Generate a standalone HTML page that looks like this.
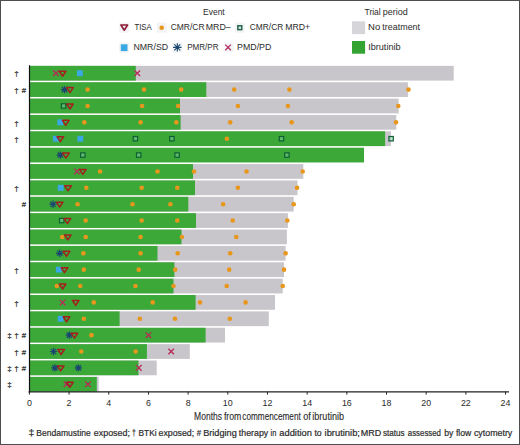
<!DOCTYPE html>
<html><head><meta charset="utf-8"><style>
html,body{margin:0;padding:0;background:#fff;}
body{width:520px;height:445px;overflow:hidden;}
svg{display:block;}
text{font-family:"Liberation Sans",sans-serif;fill:#2b2b2b;stroke:#2b2b2b;stroke-width:0.2px;}
</style></head><body>
<svg width="520" height="445" viewBox="0 0 520 445">
<rect x="0" y="0" width="520" height="445" fill="#fff"/>
<rect x="29.6" y="65.85" width="424.1" height="14.75" fill="#c8c6ca"/>
<rect x="29.6" y="65.85" width="106.2" height="14.75" fill="#3ba838"/>
<rect x="29.6" y="82.22" width="378.3" height="14.75" fill="#c8c6ca"/>
<rect x="29.6" y="82.22" width="176.7" height="14.75" fill="#3ba838"/>
<rect x="29.6" y="98.59" width="369" height="14.75" fill="#c8c6ca"/>
<rect x="29.6" y="98.59" width="150.4" height="14.75" fill="#3ba838"/>
<rect x="29.6" y="114.96" width="366.7" height="14.75" fill="#c8c6ca"/>
<rect x="29.6" y="114.96" width="151" height="14.75" fill="#3ba838"/>
<rect x="29.6" y="131.33" width="361.3" height="14.75" fill="#c8c6ca"/>
<rect x="29.6" y="131.33" width="355.5" height="14.75" fill="#3ba838"/>
<rect x="29.6" y="147.7" width="334.4" height="14.75" fill="#3ba838"/>
<rect x="29.6" y="164.07" width="273.7" height="14.75" fill="#c8c6ca"/>
<rect x="29.6" y="164.07" width="163.4" height="14.75" fill="#3ba838"/>
<rect x="29.6" y="180.44" width="267.9" height="14.75" fill="#c8c6ca"/>
<rect x="29.6" y="180.44" width="165.4" height="14.75" fill="#3ba838"/>
<rect x="29.6" y="196.81" width="264.1" height="14.75" fill="#c8c6ca"/>
<rect x="29.6" y="196.81" width="158.7" height="14.75" fill="#3ba838"/>
<rect x="29.6" y="213.18" width="258.3" height="14.75" fill="#c8c6ca"/>
<rect x="29.6" y="213.18" width="166.4" height="14.75" fill="#3ba838"/>
<rect x="29.6" y="229.55" width="257.3" height="14.75" fill="#c8c6ca"/>
<rect x="29.6" y="229.55" width="151.9" height="14.75" fill="#3ba838"/>
<rect x="29.6" y="245.92" width="256" height="14.75" fill="#c8c6ca"/>
<rect x="29.6" y="245.92" width="127.9" height="14.75" fill="#3ba838"/>
<rect x="29.6" y="262.29" width="254.4" height="14.75" fill="#c8c6ca"/>
<rect x="29.6" y="262.29" width="144.8" height="14.75" fill="#3ba838"/>
<rect x="29.6" y="278.66" width="253.1" height="14.75" fill="#c8c6ca"/>
<rect x="29.6" y="278.66" width="143.9" height="14.75" fill="#3ba838"/>
<rect x="29.6" y="295.03" width="245.4" height="14.75" fill="#c8c6ca"/>
<rect x="29.6" y="295.03" width="166" height="14.75" fill="#3ba838"/>
<rect x="29.6" y="311.4" width="239.2" height="14.75" fill="#c8c6ca"/>
<rect x="29.6" y="311.4" width="90" height="14.75" fill="#3ba838"/>
<rect x="29.6" y="327.77" width="195.4" height="14.75" fill="#c8c6ca"/>
<rect x="29.6" y="327.77" width="176" height="14.75" fill="#3ba838"/>
<rect x="29.6" y="344.14" width="160.2" height="14.75" fill="#c8c6ca"/>
<rect x="29.6" y="344.14" width="117.3" height="14.75" fill="#3ba838"/>
<rect x="29.6" y="360.51" width="127.1" height="14.75" fill="#c8c6ca"/>
<rect x="29.6" y="360.51" width="108.9" height="14.75" fill="#3ba838"/>
<rect x="29.6" y="376.88" width="69.1" height="14.75" fill="#c8c6ca"/>
<rect x="29.6" y="376.88" width="67.2" height="14.75" fill="#3ba838"/>
<path d="M53.1 70.42L58.7 76.02M53.1 76.02L58.7 70.42" stroke="#b82a58" stroke-width="1.3" fill="none"/>
<path d="M59.3 71.22H65.9L62.6 76.22Z" fill="none" stroke="#a41f1e" stroke-width="1.5" stroke-linejoin="round"/>
<rect x="76.95" y="70.27" width="5.9" height="5.9" fill="#3aa8e2"/>
<path d="M134.5 70.42L140.1 76.02M134.5 76.02L140.1 70.42" stroke="#b82a58" stroke-width="1.3" fill="none"/>
<path d="M60.8 89.59L68.2 89.59M61.88 86.98L67.12 92.21M64.5 85.89L64.5 93.3M67.12 86.98L61.88 92.21" stroke="#1b4670" stroke-width="1.2" fill="none"/>
<path d="M66.6 87.59H73.2L69.9 92.59Z" fill="none" stroke="#a41f1e" stroke-width="1.5" stroke-linejoin="round"/>
<circle cx="87.6" cy="89.59" r="2.3" fill="#e8961c"/>
<circle cx="144" cy="89.59" r="2.3" fill="#e8961c"/>
<circle cx="181.2" cy="89.59" r="2.3" fill="#e8961c"/>
<circle cx="234.2" cy="89.59" r="2.3" fill="#e8961c"/>
<circle cx="289.4" cy="89.59" r="2.3" fill="#e8961c"/>
<circle cx="408.5" cy="89.59" r="2.3" fill="#e8961c"/>
<rect x="61.4" y="103.77" width="4.4" height="4.4" fill="#7fd0a0" fill-opacity="0.5" stroke="#0f5f34" stroke-width="1.2"/>
<path d="M66.6 103.97H73.2L69.9 108.97Z" fill="none" stroke="#a41f1e" stroke-width="1.5" stroke-linejoin="round"/>
<circle cx="87.6" cy="105.97" r="2.3" fill="#e8961c"/>
<circle cx="142.1" cy="105.97" r="2.3" fill="#e8961c"/>
<circle cx="178.1" cy="105.97" r="2.3" fill="#e8961c"/>
<circle cx="237.9" cy="105.97" r="2.3" fill="#e8961c"/>
<circle cx="287.9" cy="105.97" r="2.3" fill="#e8961c"/>
<circle cx="398.3" cy="105.97" r="2.3" fill="#e8961c"/>
<rect x="57.35" y="119.38" width="5.9" height="5.9" fill="#3aa8e2"/>
<path d="M62.4 120.33H69L65.7 125.33Z" fill="none" stroke="#a41f1e" stroke-width="1.5" stroke-linejoin="round"/>
<circle cx="84.3" cy="122.33" r="2.3" fill="#e8961c"/>
<circle cx="140.6" cy="122.33" r="2.3" fill="#e8961c"/>
<circle cx="176.3" cy="122.33" r="2.3" fill="#e8961c"/>
<circle cx="230.2" cy="122.33" r="2.3" fill="#e8961c"/>
<circle cx="291.7" cy="122.33" r="2.3" fill="#e8961c"/>
<circle cx="396" cy="122.33" r="2.3" fill="#e8961c"/>
<rect x="52.95" y="135.75" width="5.9" height="5.9" fill="#3aa8e2"/>
<path d="M57 136.7H63.6L60.3 141.7Z" fill="none" stroke="#a41f1e" stroke-width="1.5" stroke-linejoin="round"/>
<rect x="77.35" y="135.75" width="5.9" height="5.9" fill="#3aa8e2"/>
<rect x="133.2" y="136.5" width="4.4" height="4.4" fill="#7fd0a0" fill-opacity="0.5" stroke="#0f5f34" stroke-width="1.2"/>
<rect x="169.7" y="136.5" width="4.4" height="4.4" fill="#7fd0a0" fill-opacity="0.5" stroke="#0f5f34" stroke-width="1.2"/>
<circle cx="226.9" cy="138.7" r="2.3" fill="#e8961c"/>
<rect x="279.3" y="136.5" width="4.4" height="4.4" fill="#7fd0a0" fill-opacity="0.5" stroke="#0f5f34" stroke-width="1.2"/>
<rect x="388.9" y="136.5" width="4.4" height="4.4" fill="#7fd0a0" fill-opacity="0.5" stroke="#0f5f34" stroke-width="1.2"/>
<path d="M56.6 155.07L64 155.07M57.68 152.46L62.92 157.69M60.3 151.38L60.3 158.77M62.92 152.46L57.68 157.69" stroke="#1b4670" stroke-width="1.2" fill="none"/>
<path d="M62.6 153.07H69.2L65.9 158.07Z" fill="none" stroke="#a41f1e" stroke-width="1.5" stroke-linejoin="round"/>
<rect x="80.6" y="152.88" width="4.4" height="4.4" fill="#7fd0a0" fill-opacity="0.5" stroke="#0f5f34" stroke-width="1.2"/>
<rect x="136.5" y="152.88" width="4.4" height="4.4" fill="#7fd0a0" fill-opacity="0.5" stroke="#0f5f34" stroke-width="1.2"/>
<rect x="174.9" y="152.88" width="4.4" height="4.4" fill="#7fd0a0" fill-opacity="0.5" stroke="#0f5f34" stroke-width="1.2"/>
<rect x="284.7" y="152.88" width="4.4" height="4.4" fill="#7fd0a0" fill-opacity="0.5" stroke="#0f5f34" stroke-width="1.2"/>
<path d="M74.2 168.64L79.8 174.25M74.2 174.25L79.8 168.64" stroke="#b82a58" stroke-width="1.3" fill="none"/>
<path d="M79.5 169.44H86.1L82.8 174.44Z" fill="none" stroke="#a41f1e" stroke-width="1.5" stroke-linejoin="round"/>
<circle cx="100.1" cy="171.44" r="2.3" fill="#e8961c"/>
<circle cx="157.5" cy="171.44" r="2.3" fill="#e8961c"/>
<circle cx="194" cy="171.44" r="2.3" fill="#e8961c"/>
<circle cx="246.5" cy="171.44" r="2.3" fill="#e8961c"/>
<circle cx="302.7" cy="171.44" r="2.3" fill="#e8961c"/>
<rect x="57.75" y="184.87" width="5.9" height="5.9" fill="#3aa8e2"/>
<path d="M64.7 185.81H71.3L68 190.81Z" fill="none" stroke="#a41f1e" stroke-width="1.5" stroke-linejoin="round"/>
<circle cx="86.3" cy="187.81" r="2.3" fill="#e8961c"/>
<circle cx="141.7" cy="187.81" r="2.3" fill="#e8961c"/>
<circle cx="177.3" cy="187.81" r="2.3" fill="#e8961c"/>
<circle cx="237.9" cy="187.81" r="2.3" fill="#e8961c"/>
<circle cx="297.1" cy="187.81" r="2.3" fill="#e8961c"/>
<path d="M49.3 204.19L56.7 204.19M50.38 201.57L55.62 206.8M53 200.49L53 207.88M55.62 201.57L50.38 206.8" stroke="#1b4670" stroke-width="1.2" fill="none"/>
<path d="M56.4 202.19H63L59.7 207.19Z" fill="none" stroke="#a41f1e" stroke-width="1.5" stroke-linejoin="round"/>
<circle cx="77.6" cy="204.19" r="2.3" fill="#e8961c"/>
<circle cx="132.5" cy="204.19" r="2.3" fill="#e8961c"/>
<circle cx="170.4" cy="204.19" r="2.3" fill="#e8961c"/>
<circle cx="223.1" cy="204.19" r="2.3" fill="#e8961c"/>
<circle cx="293.7" cy="204.19" r="2.3" fill="#e8961c"/>
<rect x="59.5" y="218.36" width="4.4" height="4.4" fill="#7fd0a0" fill-opacity="0.5" stroke="#0f5f34" stroke-width="1.2"/>
<path d="M64.1 218.56H70.7L67.4 223.56Z" fill="none" stroke="#a41f1e" stroke-width="1.5" stroke-linejoin="round"/>
<circle cx="85.7" cy="220.56" r="2.3" fill="#e8961c"/>
<circle cx="141.7" cy="220.56" r="2.3" fill="#e8961c"/>
<circle cx="177.3" cy="220.56" r="2.3" fill="#e8961c"/>
<circle cx="232.7" cy="220.56" r="2.3" fill="#e8961c"/>
<circle cx="287.3" cy="220.56" r="2.3" fill="#e8961c"/>
<circle cx="62.2" cy="236.93" r="2.3" fill="#e8961c"/>
<path d="M64.5 234.93H71.1L67.8 239.93Z" fill="none" stroke="#a41f1e" stroke-width="1.5" stroke-linejoin="round"/>
<circle cx="85.7" cy="236.93" r="2.3" fill="#e8961c"/>
<circle cx="140.6" cy="236.93" r="2.3" fill="#e8961c"/>
<circle cx="181.9" cy="236.93" r="2.3" fill="#e8961c"/>
<circle cx="236.3" cy="236.93" r="2.3" fill="#e8961c"/>
<path d="M56 253.3L63.4 253.3M57.08 250.68L62.32 255.91M59.7 249.6L59.7 257M62.32 250.68L57.08 255.91" stroke="#1b4670" stroke-width="1.2" fill="none"/>
<path d="M63.2 251.3H69.8L66.5 256.3Z" fill="none" stroke="#a41f1e" stroke-width="1.5" stroke-linejoin="round"/>
<circle cx="83.4" cy="253.3" r="2.3" fill="#e8961c"/>
<circle cx="140.6" cy="253.3" r="2.3" fill="#e8961c"/>
<circle cx="177.7" cy="253.3" r="2.3" fill="#e8961c"/>
<circle cx="230.2" cy="253.3" r="2.3" fill="#e8961c"/>
<circle cx="285.6" cy="253.3" r="2.3" fill="#e8961c"/>
<rect x="55.85" y="266.71" width="5.9" height="5.9" fill="#3aa8e2"/>
<path d="M61.2 267.66H67.8L64.5 272.66Z" fill="none" stroke="#a41f1e" stroke-width="1.5" stroke-linejoin="round"/>
<circle cx="83.8" cy="269.66" r="2.3" fill="#e8961c"/>
<circle cx="138.7" cy="269.66" r="2.3" fill="#e8961c"/>
<circle cx="175.2" cy="269.66" r="2.3" fill="#e8961c"/>
<circle cx="229.2" cy="269.66" r="2.3" fill="#e8961c"/>
<circle cx="284" cy="269.66" r="2.3" fill="#e8961c"/>
<circle cx="56.8" cy="286.03" r="2.3" fill="#e8961c"/>
<path d="M59.3 284.03H65.9L62.6 289.03Z" fill="none" stroke="#a41f1e" stroke-width="1.5" stroke-linejoin="round"/>
<circle cx="80.3" cy="286.03" r="2.3" fill="#e8961c"/>
<circle cx="135.4" cy="286.03" r="2.3" fill="#e8961c"/>
<circle cx="173.5" cy="286.03" r="2.3" fill="#e8961c"/>
<circle cx="226.7" cy="286.03" r="2.3" fill="#e8961c"/>
<circle cx="282.7" cy="286.03" r="2.3" fill="#e8961c"/>
<path d="M59.8 299.6L65.4 305.2M59.8 305.2L65.4 299.6" stroke="#b82a58" stroke-width="1.3" fill="none"/>
<path d="M72.4 300.4H79L75.7 305.4Z" fill="none" stroke="#a41f1e" stroke-width="1.5" stroke-linejoin="round"/>
<circle cx="93.8" cy="302.4" r="2.3" fill="#e8961c"/>
<circle cx="152.7" cy="302.4" r="2.3" fill="#e8961c"/>
<circle cx="200" cy="302.4" r="2.3" fill="#e8961c"/>
<circle cx="245.6" cy="302.4" r="2.3" fill="#e8961c"/>
<rect x="57.75" y="315.82" width="5.9" height="5.9" fill="#3aa8e2"/>
<path d="M63.2 316.77H69.8L66.5 321.77Z" fill="none" stroke="#a41f1e" stroke-width="1.5" stroke-linejoin="round"/>
<circle cx="83.8" cy="318.77" r="2.3" fill="#e8961c"/>
<circle cx="139.8" cy="318.77" r="2.3" fill="#e8961c"/>
<circle cx="175" cy="318.77" r="2.3" fill="#e8961c"/>
<circle cx="229.8" cy="318.77" r="2.3" fill="#e8961c"/>
<path d="M65.6 335.14L73 335.14M66.68 332.53L71.92 337.76M69.3 331.44L69.3 338.84M71.92 332.53L66.68 337.76" stroke="#1b4670" stroke-width="1.2" fill="none"/>
<path d="M71.2 333.14H77.8L74.5 338.14Z" fill="none" stroke="#a41f1e" stroke-width="1.5" stroke-linejoin="round"/>
<circle cx="91.5" cy="335.14" r="2.3" fill="#e8961c"/>
<path d="M145.7 332.34L151.3 337.94M145.7 337.94L151.3 332.34" stroke="#b82a58" stroke-width="1.3" fill="none"/>
<path d="M49.9 351.51L57.3 351.51M50.98 348.9L56.22 354.13M53.6 347.81L53.6 355.21M56.22 348.9L50.98 354.13" stroke="#1b4670" stroke-width="1.2" fill="none"/>
<path d="M57.8 349.51H64.4L61.1 354.51Z" fill="none" stroke="#a41f1e" stroke-width="1.5" stroke-linejoin="round"/>
<circle cx="81.3" cy="351.51" r="2.3" fill="#e8961c"/>
<circle cx="135.6" cy="351.51" r="2.3" fill="#e8961c"/>
<path d="M168.4 348.71L174 354.31M168.4 354.31L174 348.71" stroke="#b82a58" stroke-width="1.3" fill="none"/>
<path d="M51.2 367.88L58.6 367.88M52.28 365.27L57.52 370.5M54.9 364.19L54.9 371.58M57.52 365.27L52.28 370.5" stroke="#1b4670" stroke-width="1.2" fill="none"/>
<path d="M57.4 365.88H64L60.7 370.88Z" fill="none" stroke="#a41f1e" stroke-width="1.5" stroke-linejoin="round"/>
<path d="M74.7 367.88L82.1 367.88M75.78 365.27L81.02 370.5M78.4 364.19L78.4 371.58M81.02 365.27L75.78 370.5" stroke="#1b4670" stroke-width="1.2" fill="none"/>
<path d="M136 365.08L141.6 370.69M136 370.69L141.6 365.08" stroke="#b82a58" stroke-width="1.3" fill="none"/>
<path d="M63.7 381.45L69.3 387.06M63.7 387.06L69.3 381.45" stroke="#b82a58" stroke-width="1.3" fill="none"/>
<path d="M66.6 382.25H73.2L69.9 387.25Z" fill="none" stroke="#a41f1e" stroke-width="1.5" stroke-linejoin="round"/>
<path d="M85.2 381.45L90.8 387.06M85.2 387.06L90.8 381.45" stroke="#b82a58" stroke-width="1.3" fill="none"/>
<text x="16.5" y="76.42" text-anchor="middle" font-size="8.0">†</text>
<text x="16.5" y="92.8" text-anchor="middle" font-size="8.0">†</text>
<text x="23.9" y="92.8" text-anchor="middle" font-size="7.8">#</text>
<text x="16.5" y="125.53" text-anchor="middle" font-size="8.0">†</text>
<text x="16.5" y="141.9" text-anchor="middle" font-size="8.0">†</text>
<text x="16.5" y="191.01" text-anchor="middle" font-size="8.0">†</text>
<text x="23.9" y="207.38" text-anchor="middle" font-size="7.8">#</text>
<text x="16.5" y="272.86" text-anchor="middle" font-size="8.0">†</text>
<text x="16.5" y="305.6" text-anchor="middle" font-size="8.0">†</text>
<text x="9.5" y="338.34" text-anchor="middle" font-size="8.0">‡</text>
<text x="16.5" y="338.34" text-anchor="middle" font-size="8.0">†</text>
<text x="23.9" y="338.34" text-anchor="middle" font-size="7.8">#</text>
<text x="16.5" y="354.71" text-anchor="middle" font-size="8.0">†</text>
<text x="23.9" y="354.71" text-anchor="middle" font-size="7.8">#</text>
<text x="9.5" y="371.08" text-anchor="middle" font-size="8.0">‡</text>
<text x="16.5" y="371.08" text-anchor="middle" font-size="8.0">†</text>
<text x="23.9" y="371.08" text-anchor="middle" font-size="7.8">#</text>
<text x="9.5" y="387.45" text-anchor="middle" font-size="8.0">‡</text>
<line x1="29.5" y1="65.35" x2="29.5" y2="392.4" stroke="#111" stroke-width="1.2"/>
<line x1="28.6" y1="391.8" x2="509" y2="391.8" stroke="#222" stroke-width="1.2"/>
<line x1="29.4" y1="391.8" x2="29.4" y2="394.6" stroke="#222" stroke-width="1"/>
<text x="29.4" y="405.8" text-anchor="middle" font-size="8.9" style="stroke-width:0">0</text>
<line x1="69.08" y1="391.8" x2="69.08" y2="394.6" stroke="#222" stroke-width="1"/>
<text x="69.08" y="405.8" text-anchor="middle" font-size="8.9" style="stroke-width:0">2</text>
<line x1="108.76" y1="391.8" x2="108.76" y2="394.6" stroke="#222" stroke-width="1"/>
<text x="108.76" y="405.8" text-anchor="middle" font-size="8.9" style="stroke-width:0">4</text>
<line x1="148.44" y1="391.8" x2="148.44" y2="394.6" stroke="#222" stroke-width="1"/>
<text x="148.44" y="405.8" text-anchor="middle" font-size="8.9" style="stroke-width:0">6</text>
<line x1="188.12" y1="391.8" x2="188.12" y2="394.6" stroke="#222" stroke-width="1"/>
<text x="188.12" y="405.8" text-anchor="middle" font-size="8.9" style="stroke-width:0">8</text>
<line x1="227.8" y1="391.8" x2="227.8" y2="394.6" stroke="#222" stroke-width="1"/>
<text x="227.8" y="405.8" text-anchor="middle" font-size="8.9" style="stroke-width:0">10</text>
<line x1="267.48" y1="391.8" x2="267.48" y2="394.6" stroke="#222" stroke-width="1"/>
<text x="267.48" y="405.8" text-anchor="middle" font-size="8.9" style="stroke-width:0">12</text>
<line x1="307.16" y1="391.8" x2="307.16" y2="394.6" stroke="#222" stroke-width="1"/>
<text x="307.16" y="405.8" text-anchor="middle" font-size="8.9" style="stroke-width:0">14</text>
<line x1="346.84" y1="391.8" x2="346.84" y2="394.6" stroke="#222" stroke-width="1"/>
<text x="346.84" y="405.8" text-anchor="middle" font-size="8.9" style="stroke-width:0">16</text>
<line x1="386.52" y1="391.8" x2="386.52" y2="394.6" stroke="#222" stroke-width="1"/>
<text x="386.52" y="405.8" text-anchor="middle" font-size="8.9" style="stroke-width:0">18</text>
<line x1="426.2" y1="391.8" x2="426.2" y2="394.6" stroke="#222" stroke-width="1"/>
<text x="426.2" y="405.8" text-anchor="middle" font-size="8.9" style="stroke-width:0">20</text>
<line x1="465.88" y1="391.8" x2="465.88" y2="394.6" stroke="#222" stroke-width="1"/>
<text x="465.88" y="405.8" text-anchor="middle" font-size="8.9" style="stroke-width:0">22</text>
<line x1="505.56" y1="391.8" x2="505.56" y2="394.6" stroke="#222" stroke-width="1"/>
<text x="505.56" y="405.8" text-anchor="middle" font-size="8.9" style="stroke-width:0">24</text>
<text x="194.1" y="419.7" font-size="10.2" textLength="27.91" lengthAdjust="spacingAndGlyphs" style="stroke-width:0.12px">Months</text>
<text x="223.88" y="419.7" font-size="10.2" textLength="17.4" lengthAdjust="spacingAndGlyphs" style="stroke-width:0.12px">from</text>
<text x="242.35" y="419.7" font-size="10.2" textLength="58.41" lengthAdjust="spacingAndGlyphs" style="stroke-width:0.12px">commencement</text>
<text x="303.22" y="419.7" font-size="10.2" textLength="7.57" lengthAdjust="spacingAndGlyphs" style="stroke-width:0.12px">of</text>
<text x="312.29" y="419.7" font-size="10.2" textLength="31.79" lengthAdjust="spacingAndGlyphs" style="stroke-width:0.12px">ibrutinib</text>
<text x="28.61" y="436.1" font-size="8.6" textLength="5.79" lengthAdjust="spacingAndGlyphs">‡</text>
<text x="36.3" y="436.1" font-size="8.6" textLength="54.48" lengthAdjust="spacingAndGlyphs">Bendamustine</text>
<text x="93.82" y="436.1" font-size="8.6" textLength="36.08" lengthAdjust="spacingAndGlyphs">exposed;</text>
<text x="132.04" y="436.1" font-size="8.6" textLength="3.82" lengthAdjust="spacingAndGlyphs">†</text>
<text x="138.51" y="436.1" font-size="8.6" textLength="18.15" lengthAdjust="spacingAndGlyphs">BTKi</text>
<text x="158.53" y="436.1" font-size="8.6" textLength="35.66" lengthAdjust="spacingAndGlyphs">exposed;</text>
<text x="196.67" y="436.1" font-size="8.6" textLength="4.37" lengthAdjust="spacingAndGlyphs">#</text>
<text x="203.15" y="436.1" font-size="8.6" textLength="33.64" lengthAdjust="spacingAndGlyphs">Bridging</text>
<text x="238.87" y="436.1" font-size="8.6" textLength="29.35" lengthAdjust="spacingAndGlyphs">therapy</text>
<text x="270.6" y="436.1" font-size="8.6" textLength="5.78" lengthAdjust="spacingAndGlyphs">in</text>
<text x="279.3" y="436.1" font-size="8.6" textLength="32.6" lengthAdjust="spacingAndGlyphs">addition</text>
<text x="314.47" y="436.1" font-size="8.6" textLength="7.19" lengthAdjust="spacingAndGlyphs">to</text>
<text x="324.57" y="436.1" font-size="8.6" textLength="35.37" lengthAdjust="spacingAndGlyphs">ibrutinib;</text>
<text x="360.76" y="436.1" font-size="8.6" textLength="20.47" lengthAdjust="spacingAndGlyphs">MRD</text>
<text x="382.97" y="436.1" font-size="8.6" textLength="21.62" lengthAdjust="spacingAndGlyphs">status</text>
<text x="407.87" y="436.1" font-size="8.6" textLength="33.04" lengthAdjust="spacingAndGlyphs">assessed</text>
<text x="444.15" y="436.1" font-size="8.6" textLength="9.07" lengthAdjust="spacingAndGlyphs">by</text>
<text x="455.98" y="436.1" font-size="8.6" textLength="15.4" lengthAdjust="spacingAndGlyphs">flow</text>
<text x="473.92" y="436.1" font-size="8.6" textLength="38.39" lengthAdjust="spacingAndGlyphs">cytometry</text>
<text x="203.11" y="14.6" font-size="8.6" textLength="21.55" lengthAdjust="spacingAndGlyphs" style="stroke-width:0px">Event</text>
<text x="364.51" y="14.6" font-size="8.6" textLength="16.25" lengthAdjust="spacingAndGlyphs" style="stroke-width:0px">Trial</text>
<text x="382.82" y="14.6" font-size="8.6" textLength="24.96" lengthAdjust="spacingAndGlyphs" style="stroke-width:0px">period</text>
<text x="134.43" y="30.3" font-size="8.6" textLength="17.29" lengthAdjust="spacingAndGlyphs" style="stroke-width:0px">TISA</text>
<text x="170.67" y="30.3" font-size="8.6" textLength="33.92" lengthAdjust="spacingAndGlyphs" style="stroke-width:0px">CMR/CR</text>
<text x="205.78" y="30.3" font-size="8.6" textLength="25.03" lengthAdjust="spacingAndGlyphs" style="stroke-width:0px">MRD–</text>
<text x="249.77" y="30.3" font-size="8.6" textLength="33.51" lengthAdjust="spacingAndGlyphs" style="stroke-width:0px">CMR/CR</text>
<text x="285.28" y="30.3" font-size="8.6" textLength="24.95" lengthAdjust="spacingAndGlyphs" style="stroke-width:0px">MRD+</text>
<text x="368.02" y="30.3" font-size="8.6" textLength="12.18" lengthAdjust="spacingAndGlyphs" style="stroke-width:0px">No</text>
<text x="382.36" y="30.3" font-size="8.6" textLength="37.7" lengthAdjust="spacingAndGlyphs" style="stroke-width:0px">treatment</text>
<text x="133.48" y="49.9" font-size="8.6" textLength="34.64" lengthAdjust="spacingAndGlyphs" style="stroke-width:0px">NMR/SD</text>
<text x="187.14" y="49.9" font-size="8.6" textLength="31.44" lengthAdjust="spacingAndGlyphs" style="stroke-width:0px">PMR/PR</text>
<text x="237.08" y="49.9" font-size="8.6" textLength="34.24" lengthAdjust="spacingAndGlyphs" style="stroke-width:0px">PMD/PD</text>
<text x="368.16" y="49.9" font-size="8.6" textLength="32.42" lengthAdjust="spacingAndGlyphs" style="stroke-width:0px">Ibrutinib</text>
<rect x="119.2" y="22.6" width="10" height="10" fill="#f3f4f5"/>
<rect x="156.9" y="22.6" width="10" height="10" fill="#f3f4f5"/>
<rect x="234.8" y="22.7" width="10" height="10" fill="#f3f4f5"/>
<rect x="119.2" y="42.7" width="10" height="10" fill="#f3f4f5"/>
<rect x="172.3" y="42.4" width="10" height="10" fill="#f3f4f5"/>
<rect x="223.6" y="42.4" width="10" height="10" fill="#f3f4f5"/>
<rect x="352.0" y="21.3" width="13.1" height="12.8" fill="#d6d5d9"/>
<rect x="352.0" y="41.0" width="13.1" height="12.7" fill="#33a331"/>
<path d="M120.9 25.0H127.6L124.25 30.2Z" fill="none" stroke="#8e1a36" stroke-width="1.6" stroke-linejoin="round"/>
<circle cx="161.7" cy="27.8" r="2.3" fill="#e8961c"/>
<rect x="237.85" y="25.75" width="3.9" height="3.9" fill="#d6ece2" stroke="#2a6650" stroke-width="1.5"/>
<rect x="120.8" y="44.3" width="6.7" height="6.8" fill="#3aa8e2"/>
<path d="M173.1 47.4L181.5 47.4M174.33 44.43L180.27 50.37M177.3 43.2L177.3 51.6M180.27 44.43L174.33 50.37" stroke="#1b4670" stroke-width="1.1" fill="none"/>
<path d="M225.3 44.6L230.9 50.2M225.3 50.2L230.9 44.6" stroke="#b42a66" stroke-width="1.3" fill="none"/>
<rect x="0.5" y="0.5" width="519" height="444" fill="none" stroke="#4e4e4e" stroke-width="1"/>
</svg>
</body></html>
